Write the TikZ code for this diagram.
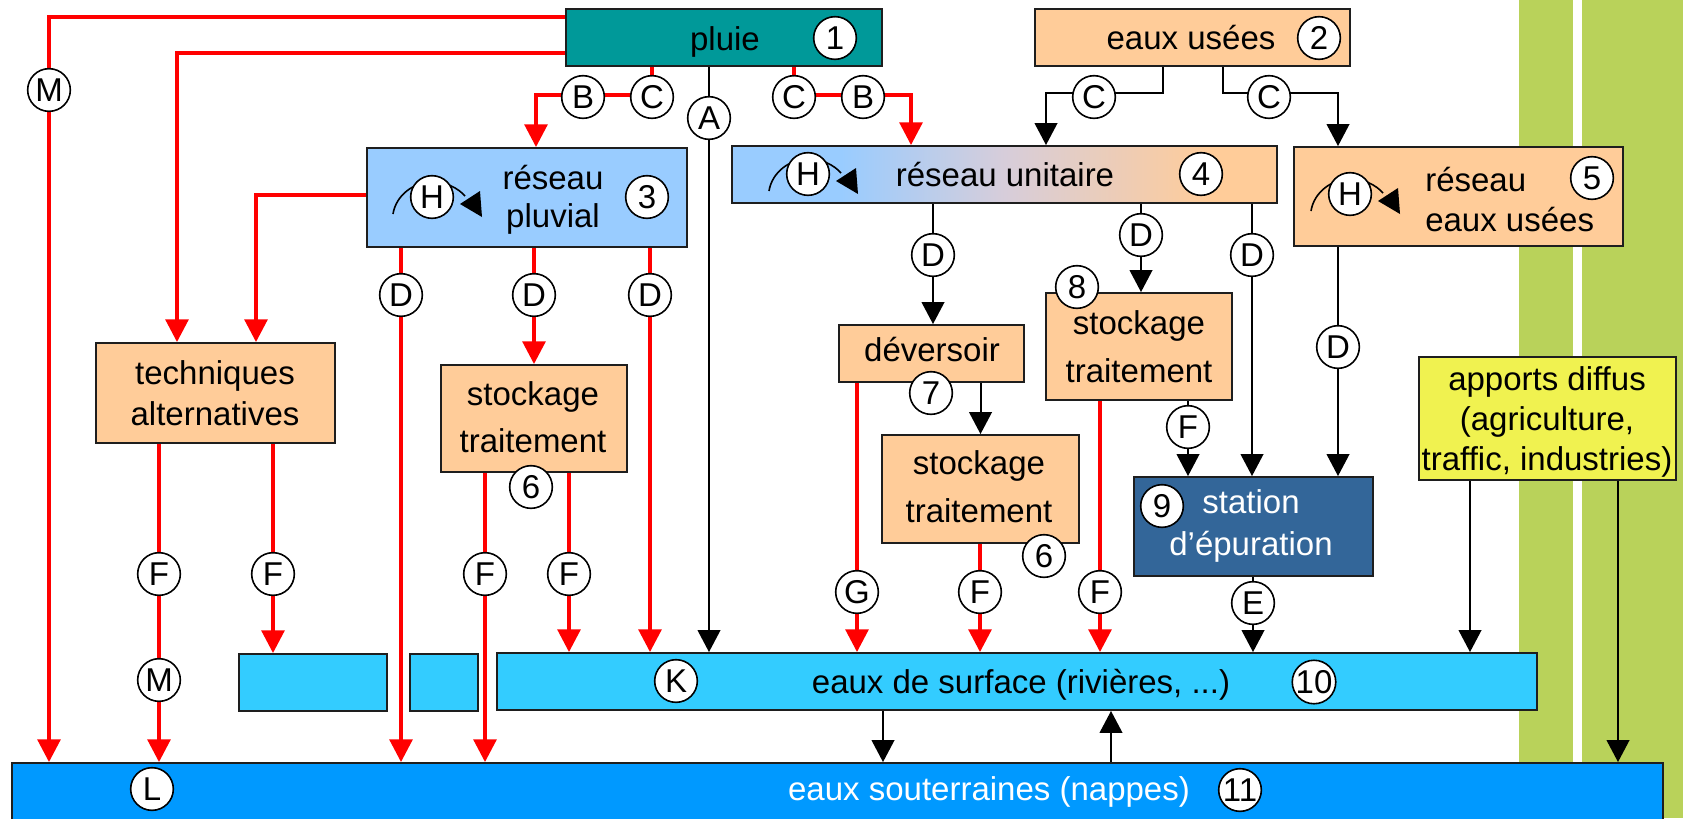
\documentclass[tikz,border=0pt]{standalone}
\usepackage{fontspec}
\setmainfont{Liberation Sans}
\usetikzlibrary{arrows.meta,fit,backgrounds}

\definecolor{bleuclair}{RGB}{153,204,255}
\definecolor{orangeclair}{RGB}{255,204,153}
\definecolor{mauve}{RGB}{215,205,218}
\definecolor{vertbande}{RGB}{185,210,90}
\definecolor{rougetrait}{RGB}{255,0,0}
\definecolor{bord}{RGB}{30,30,30}
\pgfdeclarehorizontalshading{unitaire}{100bp}{color(0bp)=(bleuclair); color(35bp)=(bleuclair); color(50bp)=(mauve); color(69bp)=(orangeclair); color(100bp)=(orangeclair)}

\begin{document}
\begin{tikzpicture}[x=0.75pt,y=0.75pt,yscale=-1,xscale=1,
  boite/.style={draw=bord, line width=1.4pt, inner sep=0pt},
  boiteorange/.style={boite, fill=orangeclair},
  boitecyan/.style={boite, fill={rgb, 255:red, 51; green, 204; blue, 255 }},
  texte/.style={inner sep=0pt, align=center, font=\fontsize{24.75}{#1}\selectfont},
  texte/.default=30,
  rond/.style={circle, draw, fill=white, line width=1.2pt, minimum size=32pt, inner sep=0pt, font=\fontsize{24.75}{30}\selectfont},
  rouge/.style={draw=rougetrait, line width=2.8pt, -{Triangle[width=17pt,length=17pt]}},
  noir/.style={draw=black, line width=1.5pt, -{Triangle[width=17pt,length=16.5pt]}},
  hloop/.pic={\draw[line width=1.2pt] (-39,-17) .. controls (-36,2) and (-18,15) .. (0,15) .. controls (14,15) and (26,9) .. (33,1);
    \fill (28,-7) -- (48,6) -- (50,-20) -- cycle;}
]
\useasboundingbox (0,0) rectangle (1683,818);

%Shape: Rectangle (bandes vertes)
\begin{scope}[on background layer]
\fill[white] (0,0) rectangle (1683,818);
\fill[vertbande] (1519,0) rectangle (1573,818);
\fill[vertbande] (1582,0) rectangle (1683,818);
\end{scope}

%Shape: Rectangle
\node[boite, fill={rgb, 255:red, 0; green, 153; blue, 153 }, fit={(566,9) (882,66)}] (pluie) {};
\node[boiteorange, fit={(1035,9) (1350,66)}] (usees) {};
\node[boite, fill=bleuclair, fit={(367,148) (687,247)}] (pluvial) {};
\node[boite, shade, shading=unitaire, fit={(732,146) (1277,203)}] (unitaire) {};
\node[boiteorange, fit={(1294,147) (1623,246)}] (rusees) {};
\node[boiteorange, fit={(96,343) (335,443)}] (alt) {};
\node[boiteorange, fit={(441,365) (627,472)}] (stockA) {};
\node[boiteorange, fit={(839,325) (1024,382)}] (dever) {};
\node[boiteorange, fit={(882,435) (1079,543)}] (stockB) {};
\node[boiteorange, fit={(1046,293) (1232,400)}] (stockC) {};
\node[boite, fill={rgb, 255:red, 51; green, 102; blue, 153 }, fit={(1134,477) (1373,576)}] (epur) {};
\node[boite, fill={rgb, 255:red, 240; green, 242; blue, 80 }, fit={(1419,357) (1676,480)}] (diffus) {};
\node[boitecyan, fit={(497,653) (1537,710)}] (surface) {};
\node[boitecyan, fit={(239,654) (387,711)}] (bac1) {};
\node[boitecyan, fit={(410,654) (478,711)}] (bac2) {};
\node[boite, fill={rgb, 255:red, 0; green, 153; blue, 255 }, fit={(12,763) (1663,840)}] (nappe) {};

%Curve Lines (recirculation)
\pic at (432,197) {hloop};
\pic at (808,174) {hloop};
\pic at (1350,194) {hloop};

% Text Node
\node[texte] (tpluie) at (725,41.5) {pluie};
\node[texte] (tusees) at (1191,37.5) {eaux usées};
\node[texte=28.5] (tpluvial) at (553,200) {réseau\\pluvial};
\node[texte] (tunitaire) at (1005,174.5) {réseau unitaire};
\node[texte, align=left, anchor=west] (trusees) at (1425,199.5) {réseau\\eaux usées};
\node[texte=30.75] (talt) at (215,393.5) {techniques\\alternatives};
\node[texte=35.5] (tstockA) at (533,417.5) {stockage\\traitement};
\node[texte] (tdever) at (932,349.5) {déversoir};
\node[texte=36] (tstockB) at (979,487) {stockage\\traitement};
\node[texte=36] (tstockC) at (1139,347) {stockage\\traitement};
\node[texte=31.5, text=white] (tepur) at (1251,525.5) {station\\d’épuration};
\node[texte] (tdiffus) at (1547,421.5) {apports diffus\\(agriculture,\\traffic, industries)};
\node[texte] (tsurface) at (1021,684.5) {eaux de surface (rivières, ...)};
\node[texte, text=white] (tnappe) at (989,791.5) {eaux souterraines (nappes)};

% Text Node (numeros)
\node[rond] (n1) at (835,38) {1};
\node[rond] (n2) at (1319,38) {2};
\node[rond] (n3) at (647,197) {3};
\node[rond] (n4) at (1201,174) {4};
\node[rond] (n5) at (1592,178) {5};
\node[rond] (n6a) at (531,487) {6};
\node[rond] (n6b) at (1044,556) {6};
\node[rond] (n7) at (931,393) {7};
\node[rond] (n8) at (1077,287) {8};
\node[rond] (n9) at (1162,506) {9};
\node[rond] (n10) at (1314,682) {10};
\node[rond] (n11) at (1240,790) {11};

% Text Node (lettres)
\node[rond] (m1) at (49,90) {M};
\node[rond] (bL) at (583,97) {B};
\node[rond] (cL) at (652,97) {C};
\node[rond] (cR) at (794,97) {C};
\node[rond] (bR) at (863,97) {B};
\node[rond] (a1) at (709,118) {A};
\node[rond] (cU1) at (1094,97) {C};
\node[rond] (cU2) at (1269,97) {C};
\node[rond] (hP) at (432,197) {H};
\node[rond] (hU) at (808,174) {H};
\node[rond] (hE) at (1350,194) {H};
\node[rond] (dP1) at (401,295) {D};
\node[rond] (dP2) at (534,295) {D};
\node[rond] (dP3) at (650,295) {D};
\node[rond] (dU1) at (933,255) {D};
\node[rond] (dU2) at (1141,235) {D};
\node[rond] (dU3) at (1252,255) {D};
\node[rond] (dE) at (1338,347) {D};
\node[rond] (fT1) at (159,574) {F};
\node[rond] (fT2) at (273,574) {F};
\node[rond] (mT) at (159,680) {M};
\node[rond] (fA1) at (485,574) {F};
\node[rond] (fA2) at (569,574) {F};
\node[rond] (gV) at (857,592) {G};
\node[rond] (fB) at (980,592) {F};
\node[rond] (fC) at (1100,592) {F};
\node[rond] (fC2) at (1188,427) {F};
\node[rond] (eS) at (1253,603) {E};
\node[rond] (kS) at (676,681) {K};
\node[rond] (lN) at (152,789) {L};

\coordinate (bM) at (49,17);
\coordinate (bT) at (177,53);
\coordinate (bB) at (536,95);
\coordinate (bB2) at (911,95);
\coordinate (kA) at (1163,93);
\coordinate (kB) at (1046,93);
\coordinate (kC) at (1223,93);
\coordinate (kD) at (1338,93);
\coordinate (pP) at (256,195);
\coordinate (xdesc) at (883,736);
\coordinate (xmont) at (1111,736);
\coordinate (xdif1) at (1470,520);
\coordinate (xdif2) at (1618,620);

%Straight Lines
\begin{scope}[on background layer]
\draw[rouge] (pluie.west |- bM) -- (bM) -- (nappe.north -| bM);
\draw[rouge] (pluie.west |- bT) -- (bT) -- (alt.north -| bT);
\draw[rouge] (pluie.south -| cL) -- (cL |- bB) -- (bB) -- (pluvial.north -| bB);
\draw[rouge] (pluie.south -| cR) -- (cR |- bB2) -- (bB2) -- (unitaire.north -| bB2);
\draw[rouge] (pluvial.west |- pP) -- (pP) -- (alt.north -| pP);
\draw[rouge] (pluvial.south -| dP1) -- (nappe.north -| dP1);
\draw[rouge] (pluvial.south -| dP2) -- (stockA.north -| dP2);
\draw[rouge] (pluvial.south -| dP3) -- (surface.north -| dP3);
\draw[rouge] (alt.south -| fT1) -- (nappe.north -| fT1);
\draw[rouge] (alt.south -| fT2) -- (bac1.north -| fT2);
\draw[rouge] (stockA.south -| fA1) -- (nappe.north -| fA1);
\draw[rouge] (stockA.south -| fA2) -- (surface.north -| fA2);
\draw[rouge] (dever.south -| gV) -- (surface.north -| gV);
\draw[rouge] (stockB.south -| fB) -- (surface.north -| fB);
\draw[rouge] (stockC.south -| fC) -- (surface.north -| fC);
\draw[noir] (pluie.south -| a1) -- (surface.north -| a1);
\draw[noir] (usees.south -| kA) -- (kA) -- (kB) -- (unitaire.north -| kB);
\draw[noir] (usees.south -| kC) -- (kC) -- (kD) -- (rusees.north -| kD);
\draw[noir] (unitaire.south -| dU1) -- (dever.north -| dU1);
\draw[noir] (unitaire.south -| dU2) -- (stockC.north -| dU2);
\draw[noir] (unitaire.south -| dU3) -- (epur.north -| dU3);
\draw[noir] (rusees.south -| dE) -- (epur.north -| dE);
\draw[noir] (dever.south -| stockB.north) -- (stockB.north);
\draw[noir] (stockC.south -| fC2) -- (epur.north -| fC2);
\draw[noir] (epur.south -| eS) -- (surface.north -| eS);
\draw[noir] (diffus.south -| xdif1) -- (surface.north -| xdif1);
\draw[noir] (diffus.south -| xdif2) -- (nappe.north -| xdif2);
\draw[noir] (surface.south -| xdesc) -- (nappe.north -| xdesc);
\draw[noir] (nappe.north -| xmont) -- (surface.south -| xmont);
\end{scope}

\end{tikzpicture}
\end{document}
